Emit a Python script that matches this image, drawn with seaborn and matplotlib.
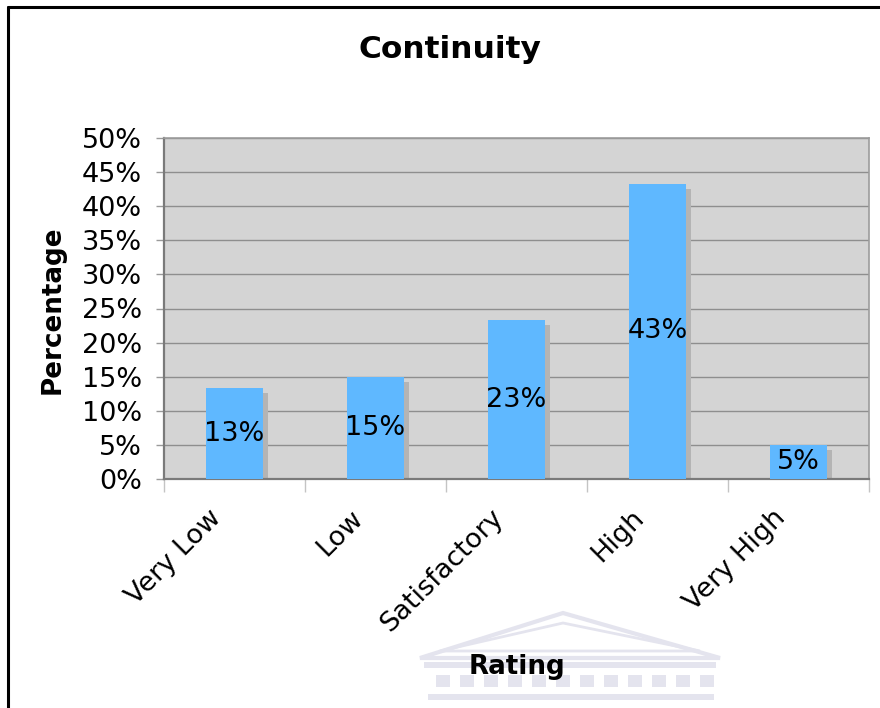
import numpy as np
import pandas as pd
import matplotlib
matplotlib.use("Agg")
import matplotlib.pyplot as plt
import matplotlib.transforms as mtransforms
from matplotlib.patches import Polygon, Rectangle
from matplotlib.ticker import FixedLocator, PercentFormatter
import seaborn as sns

# Survey results: share of respondents per rating (percent)
categories = ["Very Low", "Low", "Satisfactory", "High", "Very High"]
percentages = [13.3, 15.0, 23.3, 43.3, 5.0]
y_ticks = [0, 5, 10, 15, 20, 25, 30, 35, 40, 45, 50]

df = pd.DataFrame({"Rating": categories, "Percentage": percentages})

sns.set_theme(style="white")
plt.rcParams["font.family"] = ["DejaVu Sans"]
plt.rcParams["text.color"] = "black"

BAR = "#5fb8ff"
SHADOW = "#b4b4b4"
PANEL = "#d4d4d4"
GRID = "#8e8e8e"
MARK = "#e4e4ee"

W, H = 880, 708
fig = plt.figure(figsize=(W / 100, H / 100), dpi=100)
fig.patch.set_facecolor("white")

# pixel coordinates measured from the top-left corner
px = mtransforms.Affine2D().scale(1, -1).translate(0, H)

# Faint building emblem behind the axis title
emblem = [
    Polygon([[420, 658], [563, 613], [720, 658]], closed=True, fill=False,
            edgecolor=MARK, lw=3),
    Polygon([[440, 651], [563, 623], [700, 651]], closed=True, fill=False,
            edgecolor=MARK, lw=2),
    Rectangle((424, 662), 292, 6, facecolor=MARK, edgecolor="none"),
    Rectangle((428, 694), 286, 6, facecolor=MARK, edgecolor="none"),
]
for x0 in range(436, 706, 24):
    emblem.append(Rectangle((x0, 675), 14, 12, facecolor=MARK, edgecolor="none"))
for e in emblem:
    e.set_transform(px)
    fig.add_artist(e)

ax = fig.add_axes([164 / W, 1 - 479 / H, (869 - 164) / W, (479 - 138) / H])
ax.set_facecolor(PANEL)

# Drop shadows: same bars shifted a few pixels right and down
sns.barplot(data=df, x="Rating", y="Percentage", color=SHADOW, width=0.4,
            saturation=1, ax=ax, zorder=2)
shift = mtransforms.offset_copy(ax.transData, fig=fig, x=5, y=-5, units="dots")
n_shadow = len(ax.patches)
for p in ax.patches:
    p.set_transform(shift)
    p.set_edgecolor("none")

sns.barplot(data=df, x="Rating", y="Percentage", color=BAR, width=0.4,
            saturation=1, ax=ax, zorder=3)
for p in ax.patches[n_shadow:]:
    p.set_edgecolor("none")

# Value labels in the middle of each bar
for i, v in enumerate(percentages):
    ax.text(i, max(v / 2, 2.5), f"{v:.0f}%", ha="center", va="center",
            fontsize=19.5, color="black", zorder=5)

ax.set_ylim(0, 50)
ax.set_xlim(-0.5, len(categories) - 0.5)
ax.yaxis.set_major_locator(FixedLocator(y_ticks))
ax.yaxis.set_major_formatter(PercentFormatter(decimals=0))
ax.grid(axis="y", color=GRID, linewidth=1.0, zorder=0)
ax.set_axisbelow(True)

ax.tick_params(axis="y", which="major", left=True, length=6, width=1,
               color="#9a9a9a", labelsize=19.5, pad=10, labelcolor="black")
ax.tick_params(axis="x", which="major", bottom=False, length=0, labelsize=19.5,
               pad=12, labelcolor="black")
ax.xaxis.set_minor_locator(FixedLocator(np.arange(-0.5, len(categories), 1.0)))
ax.tick_params(axis="x", which="minor", bottom=True, length=9, width=1,
               color="#c4c4c4")
lbl_shift = mtransforms.ScaledTranslation(-26 / 100, -9 / 100, fig.dpi_scale_trans)
for lbl in ax.get_xticklabels():
    lbl.set_rotation(45)
    lbl.set_ha("right")
    lbl.set_rotation_mode("anchor")
    lbl.set_transform(lbl.get_transform() + lbl_shift)

for side in ["left", "bottom"]:
    ax.spines[side].set_color("#7a7a7a")
    ax.spines[side].set_linewidth(1.6)
for side in ["top", "right"]:
    ax.spines[side].set_color("#9c9c9c")
    ax.spines[side].set_linewidth(1.2)

ax.set_xlabel("")
ax.set_ylabel("")
fig.text(53 / W, 1 - 310 / H, "Percentage", ha="center", va="center",
         rotation=90, fontsize=18.8, fontweight="bold", color="black")
fig.text(517 / W, 1 - 667 / H, "Rating", ha="center", va="center",
         fontsize=18.8, fontweight="bold", color="black")
fig.text(450 / W, 1 - 50 / H, "Continuity", ha="center", va="center",
         fontsize=22.5, fontweight="bold", color="black")

# Outer frame around the chart
fig.add_artist(plt.Line2D([8 / W, 8 / W], [0, 1 - 7 / H],
                          transform=fig.transFigure, color="black", lw=2.2))
fig.add_artist(plt.Line2D([8 / W, 1], [1 - 7 / H, 1 - 7 / H],
                          transform=fig.transFigure, color="black", lw=2.2))

fig.savefig("out.png", dpi=100, facecolor="white")
